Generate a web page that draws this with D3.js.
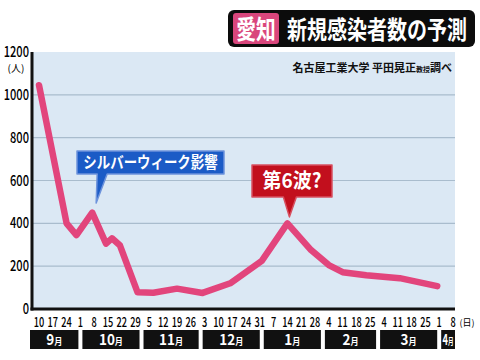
<!DOCTYPE html>
<html>
<head>
<meta charset="utf-8">
<script src="https://cdn.jsdelivr.net/npm/d3@7"></script>
<style>
  body { margin: 0; background: #fff; }
  text { font-family: "Noto Sans CJK JP", "Liberation Sans Narrow", sans-serif; }
</style>
</head>
<body>
<div id="chart"></div>
<script>
// data
var pointDates = ["2021-09-10","2021-09-24","2021-09-29","2021-10-07","2021-10-14","2021-10-17","2021-10-21",
                  "2021-10-30","2021-11-07","2021-11-19","2021-12-02","2021-12-16","2022-01-01","2022-01-14",
                  "2022-01-26","2022-02-04","2022-02-11","2022-02-23","2022-03-12","2022-03-31"];
var pointValues = [1045, 400, 345, 450, 305, 330, 298,
                   78, 76, 95, 75, 120, 225, 400,
                   275, 205, 172, 158, 144, 107];
var yTicks = [0, 200, 400, 600, 800, 1000, 1200];
var tickDays = ["10","17","24","1","8","15","22","29","5","12","19","26","3","10","17","24","31",
                "7","14","21","28","4","11","18","25","4","11","18","25","1","8"];
var monthNames = ["9","10","11","12","1","2","3","4"];
var monthStarts = ["2021-09-01","2021-10-01","2021-11-01","2021-12-01","2022-01-01","2022-02-01","2022-03-01","2022-04-01","2022-05-01"];

var parse = d3.timeParse("%Y-%m-%d");
var data = pointDates.map((d, i) => ({date: parse(d), value: pointValues[i]}));

var width = 480, height = 360;
var svg = d3.select("#chart").append("svg")
  .attr("width", width).attr("height", height);

// plot area
var plot = {left: 32, right: 455, top: 52, bottom: 309};
var x = d3.scaleTime()
  .domain([parse("2021-09-10"), parse("2022-04-08")])
  .range([39, 453]);
var y = d3.scaleLinear().domain([0, 1200]).range([plot.bottom, plot.top]);

svg.append("rect")
  .attr("x", plot.left).attr("y", plot.top)
  .attr("width", plot.right - plot.left).attr("height", plot.bottom - plot.top)
  .attr("fill", "#dbe8f4");

// gridlines
svg.selectAll(".grid")
  .data(yTicks.filter(d => d > 0 && d < 1200))
  .enter().append("line")
  .attr("x1", plot.left).attr("x2", plot.right)
  .attr("y1", d => y(d)).attr("y2", d => y(d))
  .attr("stroke", "#a9bccd").attr("stroke-width", 1.2);

// axes lines
svg.append("line")
  .attr("x1", plot.left).attr("x2", plot.left)
  .attr("y1", plot.top).attr("y2", plot.bottom + 1.5)
  .attr("stroke", "#111").attr("stroke-width", 3);
svg.append("line")
  .attr("x1", plot.left - 1.5).attr("x2", plot.right)
  .attr("y1", plot.bottom).attr("y2", plot.bottom)
  .attr("stroke", "#111").attr("stroke-width", 3);

// y tick labels
svg.selectAll(".ylab")
  .data(yTicks)
  .enter().append("text")
  .attr("transform", d => `translate(29,${y(d) + 5}) scale(0.74,1)`)
  .attr("text-anchor", "end")
  .attr("font-size", 15)
  .attr("font-weight", 500)
  .attr("fill", "#000")
  .text(d => d);
svg.append("text")
  .attr("x", 16).attr("y", 72)
  .attr("text-anchor", "middle")
  .attr("font-size", 10)
  .attr("fill", "#000")
  .text("(人)");

// x tick labels
var tickDates = d3.timeFriday.range(parse("2021-09-10"), parse("2022-04-09"));
svg.selectAll(".xlab")
  .data(tickDays)
  .enter().append("text")
  .attr("transform", (d, i) => `translate(${x(tickDates[i])},${327}) scale(0.68,1)`)
  .attr("text-anchor", "middle")
  .attr("font-size", 13.5)
  .attr("font-weight", 500)
  .attr("fill", "#000")
  .text(d => d);
svg.append("text")
  .attr("x", 467).attr("y", 326)
  .attr("text-anchor", "middle")
  .attr("font-size", 9)
  .attr("fill", "#000")
  .text("(日)");

// month boxes
var months = monthNames.map((m, i) => {
  var x0 = Math.max(x(parse(monthStarts[i])) + 2, 30);
  var x1 = Math.min(x(parse(monthStarts[i + 1])) - 2, 455);
  return {name: m, x0: x0, x1: x1};
});
var mg = svg.selectAll(".month").data(months).enter().append("g");
mg.append("rect")
  .attr("x", d => d.x0).attr("y", 330)
  .attr("width", d => d.x1 - d.x0).attr("height", 19)
  .attr("fill", "#111");
var mt = mg.append("text")
  .attr("transform", d => `translate(${(d.x0 + d.x1) / 2},345) scale(${d.x1 - d.x0 < 25 ? 0.62 : 0.9},1)`)
  .attr("text-anchor", "middle")
  .attr("fill", "#fff")
  .attr("font-weight", "bold");
mt.append("tspan").attr("font-size", 15).text(d => d.name);
mt.append("tspan").attr("font-size", 9).text("月");

// line
var line = d3.line().x(d => x(d.date)).y(d => y(d.value));
svg.append("path")
  .datum(data)
  .attr("d", line)
  .attr("fill", "none")
  .attr("stroke", "#e2457c")
  .attr("stroke-width", 6.5)
  .attr("stroke-linejoin", "round")
  .attr("stroke-linecap", "round");

// callouts
function callout(bx, by, bw, bh, tipDate, tipValue, baseL, baseR, fill, stroke, label, fs, sx) {
  var tx = x(parse(tipDate)), ty = y(tipValue);
  var g = svg.append("g");
  g.append("path")
    .attr("d", `M${bx},${by}H${bx + bw}V${by + bh}H${tx + baseR}L${tx},${ty}L${tx + baseL},${by + bh}H${bx}Z`)
    .attr("fill", fill).attr("stroke", stroke).attr("stroke-width", 1.5)
    .attr("stroke-linejoin", "round");
  g.append("text")
    .attr("transform", `translate(${bx + bw / 2},${by + bh / 2 + fs * 0.36}) scale(${sx},1)`)
    .attr("text-anchor", "middle")
    .attr("font-size", fs).attr("font-weight", "bold")
    .attr("fill", "#fff")
    .text(label);
}
callout(77, 151, 147, 23, "2021-10-09", 495, 1, 11, "#1b5bc6", "#6d93dc", "シルバーウィーク影響", 16, 0.84);
callout(252, 165, 80, 32, "2022-01-15", 430, -6, 7, "#c20f1d", "#d85060", "第6波?", 20, 0.95);

// title
svg.append("rect")
  .attr("x", 228).attr("y", 10).attr("width", 247).attr("height", 37)
  .attr("rx", 6).attr("fill", "#0c0c0c");
svg.append("rect")
  .attr("x", 233).attr("y", 13).attr("width", 46).attr("height", 31)
  .attr("rx", 3).attr("fill", "#d9467c");
svg.append("text")
  .attr("transform", "translate(256,39) scale(0.76,1)")
  .attr("text-anchor", "middle")
  .attr("font-size", 26).attr("font-weight", "bold").attr("fill", "#fff")
  .text("愛知");
svg.append("text")
  .attr("transform", "translate(287,39) scale(0.8,1)")
  .attr("font-size", 25).attr("font-weight", "bold").attr("fill", "#fff")
  .text("新規感染者数の予測");

// source note
var src = svg.append("text")
  .attr("x", 452).attr("y", 72)
  .attr("text-anchor", "end")
  .attr("font-weight", "bold")
  .attr("fill", "#111");
src.append("tspan").attr("font-size", 11).text("名古屋工業大学  平田晃正");
src.append("tspan").attr("font-size", 7).text("教授");
src.append("tspan").attr("font-size", 11).text("調べ");
</script>
</body>
</html>
